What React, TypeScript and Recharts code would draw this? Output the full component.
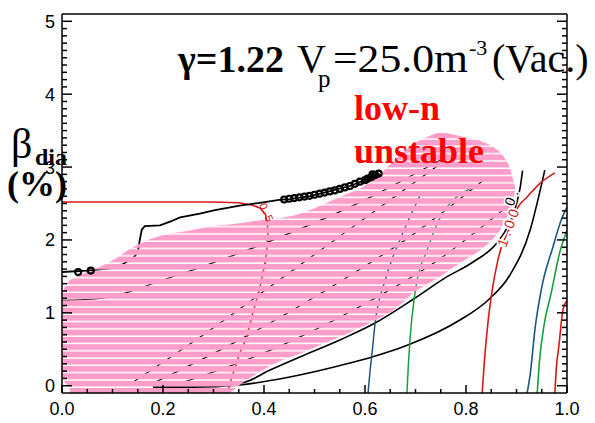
import React from 'react';
import { ComposedChart, Area, XAxis, YAxis } from 'recharts';

const W = 595;
const H = 423;
const SERIF = '"Liberation Serif", "Times New Roman", serif';
const SANS = '"Liberation Sans", Arial, sans-serif';

// axis ticks
const xMajor = [0, 0.2, 0.4, 0.6, 0.8, 1.0];
const yMajor = [0, 1, 2, 3, 4, 5];
const xTicks = Array.from({ length: 21 }, (_, i) => i * 5 / 100);
const yTicks = Array.from({ length: 51 }, (_, i) => i / 10);

// measured beta trace
const traceX = [0.0, 0.05, 0.095, 0.121, 0.141, 0.150, 0.154, 0.158, 0.164, 0.194, 0.214, 0.234, 0.273, 0.303, 0.352, 0.392, 0.430, 0.451, 0.491, 0.531, 0.570, 0.600, 0.630];
const traceY = [1.56, 1.58, 1.61, 1.67, 1.75, 1.83, 2.00, 2.14, 2.19, 2.20, 2.25, 2.31, 2.36, 2.41, 2.47, 2.51, 2.55, 2.56, 2.60, 2.67, 2.74, 2.82, 2.90];
const markX = [0.032, 0.057, 0.44, 0.45, 0.46, 0.47, 0.48, 0.49, 0.50, 0.51, 0.52, 0.53, 0.54, 0.55, 0.56, 0.57, 0.58, 0.59, 0.60, 0.605, 0.612, 0.62, 0.627, 0.615];
const markY = [1.56, 1.58, 2.555, 2.565, 2.575, 2.585, 2.595, 2.605, 2.62, 2.635, 2.65, 2.665, 2.68, 2.70, 2.72, 2.74, 2.77, 2.80, 2.82, 2.84, 2.86, 2.89, 2.91, 2.90];

// low-n unstable region
const pinkX = [-0.005, -0.002, 0.004, 0.012, 0.024, 0.046, 0.075, 0.105, 0.135, 0.164, 0.204, 0.253, 0.313, 0.327, 0.352, 0.392, 0.432, 0.471, 0.511, 0.560, 0.594, 0.630, 0.659, 0.699, 0.725, 0.749, 0.792, 0.828, 0.857, 0.877, 0.887, 0.895, 0.898];
const pinkLo = [0.35, 0.19, 0.065, 0.0, -0.2, -0.2, -0.2, -0.2, -0.2, -0.2, -0.2, -0.2, -0.2, -0.13, 0.01, 0.19, 0.34, 0.44, 0.56, 0.70, 0.81, 0.93, 1.05, 1.29, 1.40, 1.50, 1.70, 1.86, 2.04, 2.25, 2.41, 2.62, 2.70];
const pinkHi = [0.81, 1.18, 1.33, 1.42, 1.48, 1.55, 1.63, 1.74, 1.88, 1.98, 2.07, 2.13, 2.20, 2.21, 2.23, 2.27, 2.30, 2.36, 2.47, 2.62, 2.72, 2.90, 3.10, 3.33, 3.42, 3.47, 3.42, 3.36, 3.26, 3.12, 2.99, 2.78, 2.70];

// contours
const red1X = [0.0, 0.15, 0.30, 0.35, 0.375, 0.392, 0.403, 0.408, 0.406, 0.402, 0.392, 0.378, 0.366, 0.352, 0.339, 0.327];
const red1Y = [2.52, 2.52, 2.52, 2.51, 2.48, 2.44, 2.35, 2.14, 1.90, 1.68, 1.35, 1.00, 0.67, 0.45, 0.17, -0.10];
const red2X = [0.832, 0.836, 0.844, 0.851, 0.863, 0.873, 0.881, 0.892, 0.903, 0.921, 0.947, 0.976];
const red2Y = [-0.10, 0.30, 0.90, 1.27, 1.72, 1.96, 2.07, 2.28, 2.45, 2.59, 2.78, 2.92];
const red3X = [0.976, 0.979, 0.984, 0.992, 1.0];
const red3Y = [-0.10, 0.25, 0.55, 1.04, 1.17];
const upperX = [0.18, 0.25, 0.30, 0.352, 0.412, 0.471, 0.550, 0.620, 0.699, 0.758, 0.814, 0.861, 0.887, 0.901, 0.908, 0.912];
const upperY = [0.045, 0.045, 0.04, 0.037, 0.215, 0.394, 0.627, 0.860, 1.203, 1.477, 1.697, 1.957, 2.245, 2.519, 2.75, 2.95];
const lowerX = [0.18, 0.26, 0.352, 0.451, 0.570, 0.614, 0.685, 0.788, 0.844, 0.887, 0.927, 0.947, 0.956];
const lowerY = [-0.02, -0.02, 0.01, 0.119, 0.311, 0.394, 0.558, 0.901, 1.176, 1.519, 2.136, 2.684, 2.958];
const blue1X = [0.606, 0.610, 0.614, 0.620, 0.640, 0.669, 0.709];
const blue1Y = [-0.10, 0.20, 0.45, 0.86, 1.45, 2.00, 2.61];
const green1X = [0.683, 0.686, 0.689, 0.699, 0.725, 0.749, 0.814];
const green1Y = [-0.10, 0.30, 0.63, 1.27, 1.90, 2.31, 2.72];
const blue2X = [0.921, 0.927, 0.937, 0.950, 0.972, 0.990, 1.0];
const blue2Y = [-0.10, 0.15, 0.80, 1.35, 1.90, 2.30, 2.45];
const green2X = [0.941, 0.945, 0.955, 0.968, 0.986, 1.0];
const green2Y = [-0.10, 0.30, 0.85, 1.25, 1.84, 2.13];
// contours hidden under the hatching
const fan1X = [0.17, 0.33, 0.52, 0.70, 0.84];
const fan1Y = [0.0, 0.55, 1.30, 2.10, 2.85];
const fan2X = [0.13, 0.27, 0.45, 0.64, 0.80];
const fan2Y = [0.0, 0.65, 1.55, 2.50, 3.30];
const fan3X = [0.22, 0.40, 0.58, 0.75, 0.88];
const fan3Y = [0.0, 0.45, 1.05, 1.75, 2.45];
const fan4X = [0.0, 0.08, 0.20, 0.40, 0.60, 0.75];
const fan4Y = [1.17, 1.20, 1.45, 1.95, 2.55, 3.10];

const pts = (xs: number[], ys: number[]) => xs.map((x, i) => ({ x, y: ys[i] }));
const pinkData = pinkX.map((x, i) => ({ x, r: [pinkLo[i], pinkHi[i]] }));

const RED = '#d81818';
const BLUE = '#1d5685';
const GREEN = '#16a040';

const curves = [
  { id: 'fan1', d: pts(fan1X, fan1Y), c: '#000', w: 1.2, t: 'monotone' },
  { id: 'fan2', d: pts(fan2X, fan2Y), c: '#000', w: 1.2, t: 'monotone' },
  { id: 'fan3', d: pts(fan3X, fan3Y), c: '#000', w: 1.2, t: 'monotone' },
  { id: 'fan4', d: pts(fan4X, fan4Y), c: '#000', w: 1.2, t: 'monotone' },
  { id: 'upper', d: pts(upperX, upperY), c: '#000', w: 1.6, t: 'monotone' },
  { id: 'lower', d: pts(lowerX, lowerY), c: '#000', w: 1.6, t: 'monotone' },
  { id: 'blue1', d: pts(blue1X, blue1Y), c: BLUE, w: 1.5, t: 'monotone' },
  { id: 'green1', d: pts(green1X, green1Y), c: GREEN, w: 1.5, t: 'monotone' },
  { id: 'blue2', d: pts(blue2X, blue2Y), c: BLUE, w: 1.6, t: 'monotone' },
  { id: 'green2', d: pts(green2X, green2Y), c: GREEN, w: 1.6, t: 'monotone' },
  { id: 'red2', d: pts(red2X, red2Y), c: RED, w: 1.6, t: 'monotone' },
  { id: 'red3', d: pts(red3X, red3Y), c: RED, w: 1.6, t: 'monotone' },
  { id: 'red1', d: pts(red1X, red1Y), c: RED, w: 1.6, t: 'linear' },
  { id: 'trace', d: pts(traceX, traceY), c: '#000', w: 1.8, t: 'linear' },
];

const isMajor = (v: number, list: number[]) => list.some((m) => Math.abs(m - v) < 1e-6);

const BottomTick = (p: any) => {
  const v = p.payload.value;
  const major = isMajor(v, xMajor);
  return (
    <g>
      <line x1={p.x} x2={p.x} y1={p.y} y2={p.y - (major ? 8 : 4)} stroke="#000" strokeWidth={1.5} />
      {major && (
        <text x={p.x} y={p.y + 22} textAnchor="middle" fontSize={18} fontFamily={SANS} fill="#000">
          {v.toFixed(1)}
        </text>
      )}
    </g>
  );
};

const TopTick = (p: any) => {
  const major = isMajor(p.payload.value, xMajor);
  return <line x1={p.x} x2={p.x} y1={p.y} y2={p.y + (major ? 8 : 4)} stroke="#000" strokeWidth={1.5} />;
};

const LeftTick = (p: any) => {
  const v = p.payload.value;
  const major = isMajor(v, yMajor);
  return (
    <g>
      <line x1={p.x} x2={p.x + (major ? 10 : 5)} y1={p.y} y2={p.y} stroke="#000" strokeWidth={1.5} />
      {major && (
        <text x={p.x - 7} y={p.y + 6.5} textAnchor="end" fontSize={18} fontFamily={SANS} fill="#000">
          {String(v)}
        </text>
      )}
    </g>
  );
};

const RightTick = (p: any) => {
  const major = isMajor(p.payload.value, yMajor);
  return <line x1={p.x} x2={p.x - (major ? 10 : 5)} y1={p.y} y2={p.y} stroke="#000" strokeWidth={1.5} />;
};

const axisLine = { stroke: '#000', strokeWidth: 1.5 };

export default function App() {
  return (
    <div style={{ position: 'absolute', left: 0, top: 0, width: W, height: H, background: '#fff' }}>
      <svg width={0} height={0} style={{ position: 'absolute' }}>
        <defs>
          <pattern id="pinkStripes" patternUnits="userSpaceOnUse" width={10} height={7.3} y={1.1}>
            <rect x={0} y={0} width={10} height={5.8} fill="#ff9dcb" />
          </pattern>
        </defs>
      </svg>
      <ComposedChart width={W} height={H} margin={{ top: 0, right: 0, bottom: 0, left: 0 }}>
        <XAxis dataKey="x" type="number" domain={[0, 1]} allowDataOverflow ticks={xTicks} interval={0}
          tickSize={0} tickMargin={0} tickLine={false} axisLine={axisLine} tick={BottomTick} height={30} />
        <XAxis xAxisId="top" orientation="top" type="number" domain={[0, 1]} allowDataOverflow ticks={xTicks}
          interval={0} tickSize={0} tickMargin={0} tickLine={false} axisLine={axisLine} tick={TopTick} height={14} />
        <YAxis dataKey="y" type="number" domain={[-0.1, 5.1]} allowDataOverflow ticks={yTicks} interval={0}
          tickSize={0} tickMargin={0} tickLine={false} axisLine={axisLine} tick={LeftTick} width={62} />
        <YAxis yAxisId="right" orientation="right" type="number" domain={[-0.1, 5.1]} allowDataOverflow
          ticks={yTicks} interval={0} tickSize={0} tickMargin={0} tickLine={false} axisLine={axisLine}
          tick={RightTick} width={28} />
        {curves.map((c) => (
          <Area key={c.id} data={c.d} dataKey="y" type={c.t as any} stroke={c.c} strokeWidth={c.w}
            fill="none" dot={false} activeDot={false} isAnimationActive={false} />
        ))}
        <Area data={pinkData} dataKey="r" type="monotone" stroke="none" fill="url(#pinkStripes)"
          fillOpacity={1} isAnimationActive={false} activeDot={false} />
        <Area data={pts(markX, markY)} dataKey="y" stroke="none" fill="none" isAnimationActive={false}
          activeDot={false} dot={{ r: 3, stroke: '#000', strokeWidth: 2.2, fill: 'none' }} />
      </ComposedChart>
      <svg width={W} height={H} style={{ position: 'absolute', left: 0, top: 0, pointerEvents: 'none' }}>
        <text x={178} y={72} fontSize={38} fontWeight="bold" fontFamily={SERIF}>γ=1.22</text>
        <text x={297} y={72} fontSize={40} fontFamily={SERIF}>V</text>
        <text x={318} y={87} fontSize={25} fontFamily={SERIF}>p</text>
        <text x={333} y={72} fontSize={40} fontFamily={SERIF} textLength={135} lengthAdjust="spacingAndGlyphs">=25.0m</text>
        <text x={469} y={55} fontSize={22} fontFamily={SERIF}>-3</text>
        <text x={492} y={72} fontSize={40} fontFamily={SERIF}>(Vac.)</text>
        <text x={354} y={120} fontSize={36} fontWeight="bold" fontFamily={SERIF} fill="#ff0000">low-n</text>
        <text x={354} y={163} fontSize={36} fontWeight="bold" fontFamily={SERIF} fill="#ff0000">unstable</text>
        <text x={11} y={158} fontSize={42} fontFamily={SERIF}>β</text>
        <text x={35} y={165} fontSize={24} fontWeight="bold" fontFamily={SERIF}>dia</text>
        <text x={7} y={196} fontSize={36} fontWeight="bold" fontFamily={SERIF}>(%)</text>
        <text x={259} y={205} fontSize={11} fontFamily={SANS} fill={RED} letterSpacing={2}
          transform="rotate(66 259 205)">0.5</text>
        <text x={506} y={248} fontSize={14} fontFamily={SANS} fill={RED} letterSpacing={4}
          stroke="#fff" strokeWidth={4} paintOrder="stroke" transform="rotate(-70 506 248)">1.00</text>
        <text x={513} y={207} fontSize={14} fontFamily={SANS} fill="#000" letterSpacing={4}
          stroke="#fff" strokeWidth={3} paintOrder="stroke" transform="rotate(-68 513 207)">0.</text>
      </svg>
    </div>
  );
}
